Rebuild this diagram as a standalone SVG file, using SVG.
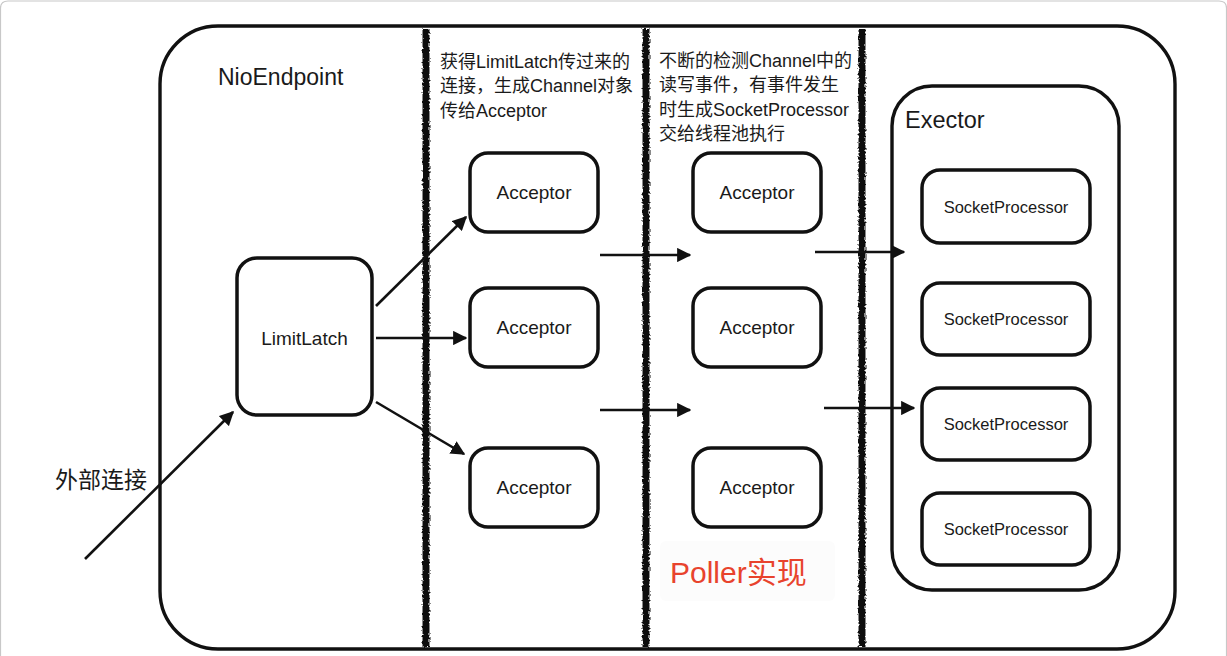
<svg xmlns="http://www.w3.org/2000/svg" width="1227" height="656" viewBox="0 0 1227 656">
  <style>
    .box { fill: #ffffff; stroke: #111; stroke-width: 3.5; }
    .lbl { font-family: "Liberation Sans", "Noto Sans CJK SC", sans-serif; fill: #1a1a1a; }
    .cn { font-family: "Liberation Sans", "Noto Sans CJK SC", sans-serif; fill: #1a1a1a; font-size: 18px; }
    .div { stroke: #111; stroke-width: 7; fill: none; }
    .arr { stroke: #111; stroke-width: 2.6; fill: none; marker-end: url(#ah); }
  </style>
  <defs>
    <marker id="ah" viewBox="0 0 10 10" refX="9" refY="5" markerWidth="5.5" markerHeight="5.5" markerUnits="strokeWidth" orient="auto">
      <path d="M0,0 L10,5 L0,10 Z" fill="#111"/>
    </marker>
    <filter id="rough" x="-20%" y="-2%" width="140%" height="104%">
      <feTurbulence type="fractalNoise" baseFrequency="0.5" numOctaves="2" seed="3" result="n"/>
      <feDisplacementMap in="SourceGraphic" in2="n" scale="4" xChannelSelector="R" yChannelSelector="G"/>
    </filter>
  </defs>

  <rect x="0" y="0" width="1227" height="656" fill="#ffffff"/>
  <path d="M0.5,656 L0.5,8 Q0.5,1 8,1 L1219,1 Q1226.5,1 1226.5,8 L1226.5,656" fill="none" stroke="#c8c8c8" stroke-width="1.2"/>

  <g id="nioendpoint">
    <rect x="160" y="26" width="1015" height="623" rx="58" ry="58" fill="#fff" stroke="#111" stroke-width="3.4"/>
    <text class="lbl" x="218" y="85" font-size="23">NioEndpoint</text>
  </g>

  <g id="dividers" filter="url(#rough)">
    <line class="div" x1="426" y1="29" x2="426" y2="647"/>
    <line class="div" x1="646" y1="29" x2="646" y2="647"/>
    <line class="div" x1="862" y1="29" x2="862" y2="647"/>
  </g>

  <g id="acceptor-desc">
    <text class="cn" x="440" y="68">获得LimitLatch传过来的</text>
    <text class="cn" x="440" y="92">连接，生成Channel对象</text>
    <text class="cn" x="440" y="117">传给Acceptor</text>
  </g>

  <g id="poller-desc">
    <text class="cn" x="659" y="67">不断的检测Channel中的</text>
    <text class="cn" x="659" y="91">读写事件，有事件发生</text>
    <text class="cn" x="659" y="116">时生成SocketProcessor</text>
    <text class="cn" x="659" y="140">交给线程池执行</text>
  </g>

  <g id="external-label">
    <text class="lbl" x="55" y="488" font-size="23">外部连接</text>
  </g>

  <g id="limitlatch">
    <rect class="box" x="237" y="258" width="135" height="157" rx="20"/>
    <text class="lbl" x="304.5" y="345" font-size="19" text-anchor="middle">LimitLatch</text>
  </g>

  <g id="acceptor-1a">
    <rect class="box" x="470" y="153" width="128" height="79" rx="18"/>
    <text class="lbl" x="534" y="199" font-size="19" text-anchor="middle">Acceptor</text>
  </g>
  <g id="acceptor-1b">
    <rect class="box" x="470" y="288" width="128" height="79" rx="18"/>
    <text class="lbl" x="534" y="334" font-size="19" text-anchor="middle">Acceptor</text>
  </g>
  <g id="acceptor-1c">
    <rect class="box" x="470" y="448" width="128" height="79" rx="18"/>
    <text class="lbl" x="534" y="494" font-size="19" text-anchor="middle">Acceptor</text>
  </g>

  <g id="acceptor-2a">
    <rect class="box" x="693" y="153" width="128" height="79" rx="18"/>
    <text class="lbl" x="757" y="199" font-size="19" text-anchor="middle">Acceptor</text>
  </g>
  <g id="acceptor-2b">
    <rect class="box" x="693" y="288" width="128" height="79" rx="18"/>
    <text class="lbl" x="757" y="334" font-size="19" text-anchor="middle">Acceptor</text>
  </g>
  <g id="acceptor-2c">
    <rect class="box" x="693" y="448" width="128" height="79" rx="18"/>
    <text class="lbl" x="757" y="494" font-size="19" text-anchor="middle">Acceptor</text>
  </g>

  <g id="poller-label">
    <rect x="660" y="541" width="175" height="60" rx="6" fill="#fcfcfc"/>
    <text x="670" y="583" font-family="Liberation Sans, Noto Sans CJK SC, sans-serif" font-size="30" fill="#e8432d">Poller实现</text>
  </g>

  <g id="exector">
    <rect x="892" y="86" width="227" height="504" rx="40" fill="#fff" stroke="#111" stroke-width="3.4"/>
    <text class="lbl" x="905" y="128" font-size="23.5">Exector</text>
  </g>
  <g id="socketprocessor-1">
    <rect class="box" x="922" y="170" width="168" height="73" rx="18"/>
    <text class="lbl" x="1006" y="213" font-size="16.5" text-anchor="middle">SocketProcessor</text>
  </g>
  <g id="socketprocessor-2">
    <rect class="box" x="922" y="283" width="168" height="72" rx="18"/>
    <text class="lbl" x="1006" y="325" font-size="16.5" text-anchor="middle">SocketProcessor</text>
  </g>
  <g id="socketprocessor-3">
    <rect class="box" x="922" y="388" width="168" height="72" rx="18"/>
    <text class="lbl" x="1006" y="430" font-size="16.5" text-anchor="middle">SocketProcessor</text>
  </g>
  <g id="socketprocessor-4">
    <rect class="box" x="922" y="493" width="168" height="72" rx="18"/>
    <text class="lbl" x="1006" y="535" font-size="16.5" text-anchor="middle">SocketProcessor</text>
  </g>

  <g id="connectors">
    <line class="arr" x1="85" y1="559" x2="233" y2="412"/>
    <line class="arr" x1="376" y1="306" x2="466" y2="217"/>
    <line class="arr" x1="376" y1="338" x2="466" y2="338"/>
    <line class="arr" x1="376" y1="402" x2="464" y2="454"/>
    <line class="arr" x1="600" y1="255" x2="690" y2="255"/>
    <line class="arr" x1="600" y1="410" x2="690" y2="410"/>
    <line class="arr" x1="815" y1="252" x2="904" y2="252"/>
    <line class="arr" x1="824" y1="408" x2="914" y2="408"/>
  </g>
</svg>
